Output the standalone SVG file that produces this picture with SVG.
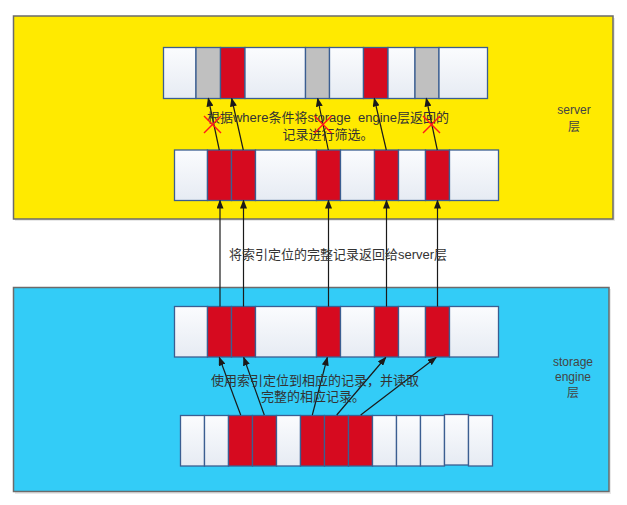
<svg xmlns="http://www.w3.org/2000/svg" width="627" height="505" viewBox="0 0 627 505">
<style>
.layer{stroke:#6b6b6b;stroke-width:1.5}
.c{stroke:#3b5e91;stroke-width:1.3}
.w{fill:url(#gw)}
.r{fill:#d60a1f}
.g{fill:#c0c0c0}
.t{font-family:"Liberation Sans","Noto Sans CJK SC",sans-serif;font-size:13px;fill:#333;text-anchor:middle;white-space:pre}
.s{font-size:12px;fill:#444}
.con line{stroke:#1a1a1a;stroke-width:1.2;marker-end:url(#ah)}
.x line{stroke:#ff1a1a;stroke-width:1.4}
</style>
<defs>
<linearGradient id="gw" x1="0" y1="0" x2="0" y2="1">
<stop offset="0" stop-color="#fbfcfe"/>
<stop offset="1" stop-color="#e6ebf3"/>
</linearGradient>
<marker id="ah" markerUnits="userSpaceOnUse" markerWidth="9" markerHeight="7" refX="8" refY="3.5" orient="auto">
<path d="M0,0 L9,3.5 L0,7 z" fill="#1a1a1a"/>
</marker>
</defs>
<rect width="627" height="505" fill="#fff"/>
<g id="server-layer">
<rect x="15" y="18" width="600" height="203" fill="#e8e8e8"/>
<rect class="layer" x="13.5" y="16" width="599.5" height="203" fill="#ffea00"/>
<text class="t s" x="574" y="114">server</text>
<text class="t s" x="574" y="131">层</text>
</g>
<g id="storage-layer">
<rect x="15" y="289" width="596" height="205" fill="#e8e8e8"/>
<rect class="layer" x="13.5" y="287.5" width="595.5" height="204" fill="#33ccf7"/>
<text class="t s" x="573" y="366">storage</text>
<text class="t s" x="573" y="381">engine</text>
<text class="t s" x="573" y="397">层</text>
</g>
<g id="server-records">
<rect class="c w" x="163.5" y="47.5" width="32.5" height="51"/>
<rect class="c g" x="196" y="47.5" width="24.5" height="51"/>
<rect class="c r" x="220.5" y="47.5" width="24.5" height="51"/>
<rect class="c w" x="245" y="47.5" width="60.5" height="51"/>
<rect class="c g" x="305.5" y="47.5" width="24" height="51"/>
<rect class="c w" x="329.5" y="47.5" width="34" height="51"/>
<rect class="c r" x="363.5" y="47.5" width="24.5" height="51"/>
<rect class="c w" x="388" y="47.5" width="27" height="51"/>
<rect class="c g" x="415" y="47.5" width="24" height="51"/>
<rect class="c w" x="439" y="47.5" width="48.5" height="51"/>
</g>
<g id="returned-records">
<rect class="c w" x="174.5" y="150" width="33" height="50.5"/>
<rect class="c r" x="207.5" y="150" width="24" height="50.5"/>
<rect class="c r" x="231.5" y="150" width="24" height="50.5"/>
<rect class="c w" x="255.5" y="150" width="61" height="50.5"/>
<rect class="c r" x="316.5" y="150" width="24" height="50.5"/>
<rect class="c w" x="340.5" y="150" width="34" height="50.5"/>
<rect class="c r" x="374.5" y="150" width="24" height="50.5"/>
<rect class="c w" x="398.5" y="150" width="27" height="50.5"/>
<rect class="c r" x="425.5" y="150" width="24" height="50.5"/>
<rect class="c w" x="449.5" y="150" width="49" height="50.5"/>
</g>
<g id="engine-records">
<rect class="c w" x="174.5" y="306.5" width="33" height="50.5"/>
<rect class="c r" x="207.5" y="306.5" width="24" height="50.5"/>
<rect class="c r" x="231.5" y="306.5" width="24" height="50.5"/>
<rect class="c w" x="255.5" y="306.5" width="61" height="50.5"/>
<rect class="c r" x="316.5" y="306.5" width="24" height="50.5"/>
<rect class="c w" x="340.5" y="306.5" width="34" height="50.5"/>
<rect class="c r" x="374.5" y="306.5" width="24" height="50.5"/>
<rect class="c w" x="398.5" y="306.5" width="27" height="50.5"/>
<rect class="c r" x="425.5" y="306.5" width="24" height="50.5"/>
<rect class="c w" x="449.5" y="306.5" width="49" height="50.5"/>
</g>
<g id="index-records">
<rect class="c w" x="180.5" y="415.5" width="24" height="50.5"/>
<rect class="c w" x="204.5" y="415.5" width="24" height="50.5"/>
<rect class="c r" x="228.5" y="415.5" width="24" height="50.5"/>
<rect class="c r" x="252.5" y="415.5" width="24" height="50.5"/>
<rect class="c w" x="276.5" y="415.5" width="24" height="50.5"/>
<rect class="c r" x="300.5" y="415.5" width="24" height="50.5"/>
<rect class="c r" x="324.5" y="415.5" width="24" height="50.5"/>
<rect class="c r" x="348.5" y="415.5" width="24" height="50.5"/>
<rect class="c w" x="372.5" y="415.5" width="24" height="50.5"/>
<rect class="c w" x="396.5" y="415.5" width="24" height="50.5"/>
<rect class="c w" x="420.5" y="415.5" width="24" height="50.5"/>
<rect class="c w" x="444.5" y="414.5" width="24" height="50.5"/>
<rect class="c w" x="468.5" y="415.5" width="24" height="50.5"/>
</g>
<g id="connectors" class="con">
<line x1="219.3" y1="150" x2="208.3" y2="98.5"/>
<line x1="243.3" y1="150" x2="231.7" y2="98.5"/>
<line x1="328.3" y1="150" x2="317.7" y2="98.5"/>
<line x1="386.3" y1="150" x2="374.3" y2="98.5"/>
<line x1="437.3" y1="150" x2="426.3" y2="98.5"/>
<line x1="220" y1="306.5" x2="220" y2="200.5"/>
<line x1="243.5" y1="306.5" x2="243.5" y2="200.5"/>
<line x1="328.5" y1="306.5" x2="328.5" y2="200.5"/>
<line x1="386.5" y1="306.5" x2="386.5" y2="200.5"/>
<line x1="437.5" y1="306.5" x2="437.5" y2="200.5"/>
<line x1="240.7" y1="415" x2="219.3" y2="357.5"/>
<line x1="264.3" y1="415" x2="243.7" y2="357.5"/>
<line x1="312.3" y1="415" x2="327.3" y2="357.5"/>
<line x1="336.7" y1="415" x2="385.7" y2="357.5"/>
<line x1="360.7" y1="415" x2="436" y2="357.5"/>
</g>
<g id="labels">
<text class="t" x="328" y="122" xml:space="preserve">根据where条件将storage  engine层返回的</text>
<text class="t" x="328" y="139">记录进行筛选。</text>
<text class="t" x="338" y="259">将索引定位的完整记录返回给server层</text>
<text class="t" x="315" y="385">使用索引定位到相应的记录，并读取</text>
<text class="t" x="313" y="401">完整的相应记录。</text>
</g>
<g id="rejections" class="x">
<line x1="204" y1="116" x2="221" y2="133"/><line x1="221" y1="116" x2="204" y2="133"/>
<line x1="314.5" y1="116" x2="331.5" y2="133"/><line x1="331.5" y1="116" x2="314.5" y2="133"/>
<line x1="423" y1="116" x2="440" y2="133"/><line x1="440" y1="116" x2="423" y2="133"/>
</g>
</svg>
